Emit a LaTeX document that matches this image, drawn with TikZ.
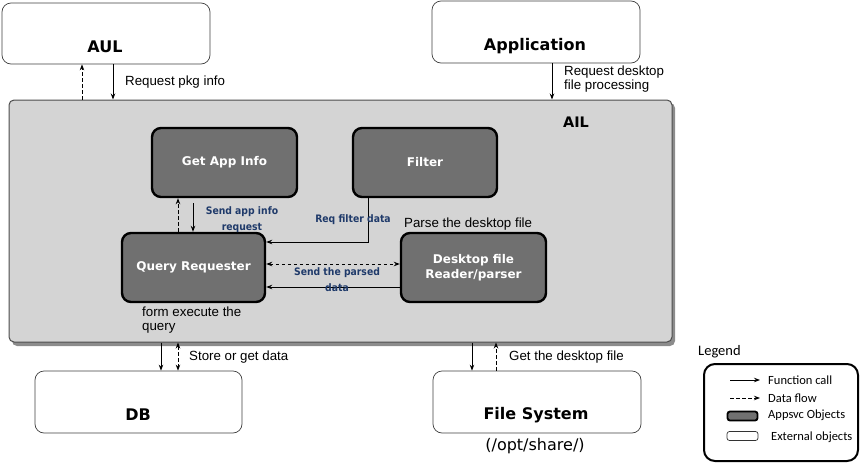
\documentclass[tikz,border=0pt]{standalone}
\usepackage{fontspec}
\setmainfont{Liberation Sans}
\newfontfamily\titlefont{DejaVu Sans}
\newfontfamily\condfont{DejaVu Sans Condensed}
\newfontfamily\legfont{Carlito}
\usetikzlibrary{arrows.meta,calc}
\definecolor{ailgray}{HTML}{D4D4D4}
\definecolor{appgray}{HTML}{707070}
\definecolor{lblblue}{HTML}{1F3A6A}
\begin{document}
\begin{tikzpicture}[x=1pt,y=-1pt,
  ext/.style={draw=black!75,line width=0.7pt,rounded corners=9pt,fill=white,inner sep=0pt},
  appobj/.style={draw=black,line width=2.4pt,rounded corners=9pt,fill=appgray,inner sep=0pt,
    text=white,font=\titlefont\bfseries\fontsize{12}{14}\selectfont,align=center},
  exttitle/.style={font=\titlefont\bfseries\fontsize{16}{18}\selectfont},
  lbl/.style={font=\fontsize{13.3}{14}\selectfont,align=left,inner sep=0pt},
  blbl/.style={font=\condfont\bfseries\fontsize{10.3}{16}\selectfont,text=lblblue,align=center,inner sep=0pt},
  leg/.style={font=\legfont\fontsize{12.5}{13}\selectfont,anchor=west,inner sep=0pt},
  fcall/.style={-{Stealth[length=6pt,width=4.5pt]},line width=0.9pt},
  dflow/.style={-{Stealth[length=6pt,width=4.5pt]},line width=0.9pt,dash pattern=on 3.5pt off 2.5pt},
  dflow2/.style={{Stealth[length=6pt,width=4.5pt]}-{Stealth[length=6pt,width=4.5pt]},line width=0.9pt,dash pattern=on 3.5pt off 2.5pt}]
\useasboundingbox (0,0) rectangle (863,469);
% AIL container with shadow
\fill[black!45,rounded corners=5pt] (12,103) rectangle (675,346);
\node[draw=black!70,line width=1pt,rounded corners=5pt,fill=ailgray,minimum width=663pt,minimum height=242pt,inner sep=0pt] (ail) at (340.5,221) {};
\node[font=\titlefont\bfseries\fontsize{14.5}{16}\selectfont] (ailt) at (576,122) {AIL};
% external objects
\node[ext,minimum width=208pt,minimum height=61pt] (aul) at (106,33.5) {};
\node[exttitle] (ault) at (105,47) {AUL};
\node[ext,minimum width=208pt,minimum height=62pt] (app) at (536,32) {};
\node[exttitle] (appt) at (535,46) {Application};
\node[ext,minimum width=207pt,minimum height=62pt] (db) at (138.5,402) {};
\node[exttitle] (dbt) at (138,415) {DB};
\node[ext,minimum width=208pt,minimum height=62pt] (fs) at (537,402) {};
\node[exttitle] (fst) at (536,415) {File System};
\node[font=\titlefont\fontsize{16}{18}\selectfont] (fsp) at (535,446) {(/opt/share/)};
% appsvc objects
\node[appobj,minimum width=145pt,minimum height=69pt] (gai) at (224.5,162.5) {Get App Info};
\node[appobj,minimum width=144pt,minimum height=69pt] (filt) at (425,162.5) {Filter};
\node[appobj,minimum width=143pt,minimum height=69pt] (qr) at (193.5,267.5) {Query Requester};
\node[appobj,minimum width=145pt,minimum height=69pt] (dfr) at (473.5,267.5) {Desktop file\\[1pt]Reader/parser};
% top connectors
\draw[dflow] (82,0 |- ail.north) -- (82,0 |- aul.south);
\draw[fcall] (113,0 |- aul.south) -- (113,0 |- ail.north);
\node[lbl,anchor=west] (l1) at (125,82) {Request pkg info};
\draw[fcall] (552,0 |- app.south) -- (552,0 |- ail.north);
\node[lbl,anchor=north west] (l2) at (564,66) {Request desktop\\file processing};
% inner connectors
\draw[dflow] (178,0 |- qr.north) -- (178,0 |- gai.south);
\draw[fcall] (193,203) -- (193,0 |- qr.north);
\node[blbl] (l3) at (242,220) {Send app info\\request};
\coordinate (fc) at (368,242);
\draw[fcall] (368,0 |- filt.south) -- (fc) -- (fc -| qr.east);
\node[blbl] (l4) at (353,220) {Req filter data};
\node[lbl,anchor=west] (l5) at (404,224) {Parse the desktop file};
\draw[dflow2] (qr.east |- 0,264) -- (dfr.west |- 0,264);
\draw[fcall] (dfr.west |- 0,287) -- (qr.east |- 0,287);
\node[blbl] (l6) at (337,280) {Send the parsed\\data};
\node[lbl,anchor=north west] (l7) at (142,307) {form execute the\\query};
% bottom connectors
\draw[fcall] (161,0 |- ail.south) -- (161,0 |- db.north);
\draw[dflow2] (178,0 |- ail.south) -- (178,0 |- db.north);
\node[lbl,anchor=west] (l8) at (189,357) {Store or get data};
\draw[fcall] (472,0 |- ail.south) -- (472,0 |- fs.north);
\draw[dflow] (496,0 |- fs.north) -- (496,0 |- ail.south);
\node[lbl,anchor=west] (l9) at (509,357) {Get the desktop file};
% legend
\node[font=\legfont\fontsize{14.5}{15}\selectfont,anchor=west,inner sep=0pt] (legt) at (698,352) {Legend};
\node[draw=black,line width=2pt,rounded corners=11pt,minimum width=154pt,minimum height=97pt,inner sep=0pt] (legbox) at (781,412.5) {};
\coordinate (la1) at (730,380); \coordinate (la2) at (760,380);
\draw[fcall] (la1) -- (la2);
\node[leg] (lt1) at (768,380) {Function call};
\coordinate (lb1) at (730,398); \coordinate (lb2) at (760,398);
\draw[dflow] (lb1) -- (lb2);
\node[leg] (lt2) at (768,398) {Data flow};
\node[draw=black,line width=1.8pt,fill=appgray,rounded corners=2.5pt,minimum width=30pt,minimum height=9pt,inner sep=0pt] (lr1) at (742.5,416) {};
\node[leg] (lt3) at (768,415) {Appsvc Objects};
\node[draw=black!80,line width=0.7pt,fill=white,rounded corners=2.5pt,minimum width=31pt,minimum height=9pt,inner sep=0pt] (lr2) at (742.5,436) {};
\node[leg] (lt4) at (771,437) {External objects};
\end{tikzpicture}
\end{document}
